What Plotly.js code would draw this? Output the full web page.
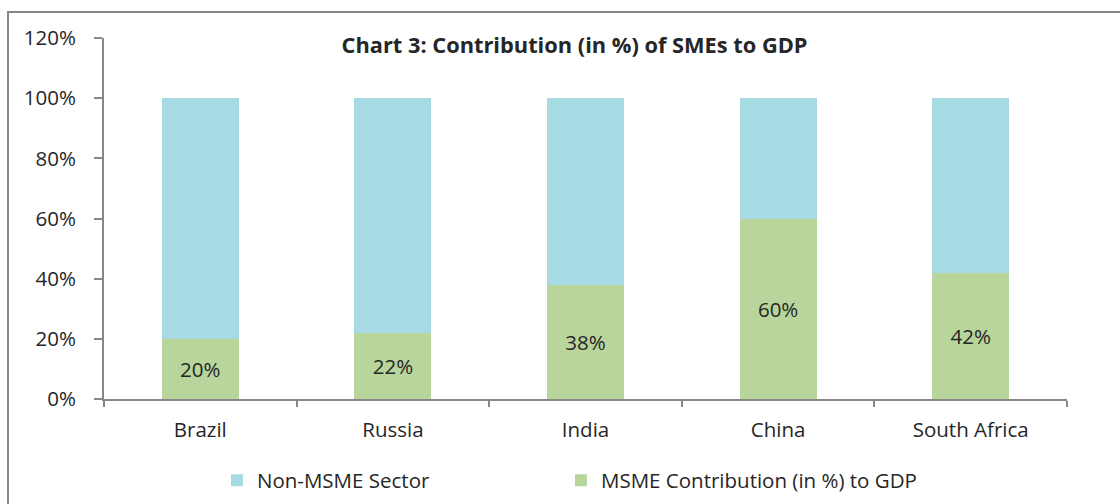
<!DOCTYPE html>
<html>
<head>
<meta charset="utf-8">
<script src="https://cdn.plot.ly/plotly-3.0.1.min.js"></script>
<style>
  html, body { margin: 0; padding: 0; background: #ffffff; overflow: hidden; }
  #wrap { position: relative; width: 1120px; height: 504px; }
  #frame { position: absolute; left: 7px; top: 11px; width: 1130px; height: 510px;
           border: 2px solid #878787; box-sizing: border-box; pointer-events: none; z-index: 2; }
  #chart { position: absolute; left: 0; top: 0; width: 1120px; height: 504px; }
</style>
</head>
<body>
<div id="wrap">
  <div id="frame"></div>
  <div id="chart"></div>
</div>
<script>
const categories = ["Brazil", "Russia", "India", "China", "South Africa"];
const msmeShare = [0.20, 0.22, 0.38, 0.60, 0.42];
const nonMsmeShare = [0.80, 0.78, 0.62, 0.40, 0.58];
const msmeLabels = ["20%", "22%", "38%", "60%", "42%"];
const seriesNames = ["MSME Contribution (in %) to GDP", "Non-MSME Sector"];
const yTickVals = [0, 0.2, 0.4, 0.6, 0.8, 1.0, 1.2];
const yTickText = ["0%", "20%", "40%", "60%", "80%", "100%", "120%"];
const chartTitle = "Chart 3: Contribution (in %) of SMEs to GDP";

const FONT = "'Open Sans', 'Noto Sans', sans-serif";
const TXT = "#262626";

const traces = [
  {
    type: "bar", name: seriesNames[0], x: categories, y: msmeShare,
    marker: { color: "#B8D59C" }, legend: "legend2",
    text: msmeLabels, textposition: "inside", insidetextanchor: "middle",
    textangle: 0, textfont: { family: FONT, size: 20.5, color: TXT },
    hoverinfo: "skip"
  },
  {
    type: "bar", name: seriesNames[1], x: categories, y: nonMsmeShare,
    marker: { color: "#A8DAE3" }, legend: "legend", hoverinfo: "skip"
  }
];

const legendBase = {
  orientation: "h", xanchor: "left", xref: "container",
  y: 0.047, yanchor: "middle", yref: "container",
  font: { family: FONT, size: 20.5, color: TXT },
  itemwidth: 30, bgcolor: "rgba(0,0,0,0)"
};

const layout = {
  width: 1120, height: 504,
  margin: { l: 104, r: 53, t: 38, b: 105 },
  paper_bgcolor: "rgba(0,0,0,0)", plot_bgcolor: "rgba(0,0,0,0)",
  barmode: "stack", bargap: 0.6,
  font: { family: FONT, size: 20.5, color: TXT },
  title: {
    text: "<b>" + chartTitle + "</b>",
    font: { family: FONT, size: 21.8, color: TXT },
    x: 0.513, xanchor: "center", xref: "container",
    y: 0.909, yanchor: "middle", yref: "container"
  },
  xaxis: {
    type: "category", showgrid: false, zeroline: false,
    showline: true, linecolor: "#878787", linewidth: 2,
    ticks: "outside", tickson: "boundaries", ticklen: 6, tickwidth: 2, tickcolor: "#878787",
    tickfont: { family: FONT, size: 20.5, color: TXT },
    ticklabelstandoff: 11
  },
  yaxis: {
    range: [0, 1.2], tickvals: yTickVals, ticktext: yTickText,
    showgrid: false, zeroline: false,
    showline: true, linecolor: "#878787", linewidth: 2,
    ticks: "outside", ticklen: 8, tickwidth: 2, tickcolor: "#878787",
    tickfont: { family: FONT, size: 20.5, color: TXT },
    ticklabelstandoff: 14
  },
  showlegend: true,
  legend: Object.assign({}, legendBase, { x: 217 / 1120 }),
  legend2: Object.assign({}, legendBase, { x: 561 / 1120 })
};

Plotly.newPlot("chart", traces, layout, { displayModeBar: false, staticPlot: true });
</script>
</body>
</html>
